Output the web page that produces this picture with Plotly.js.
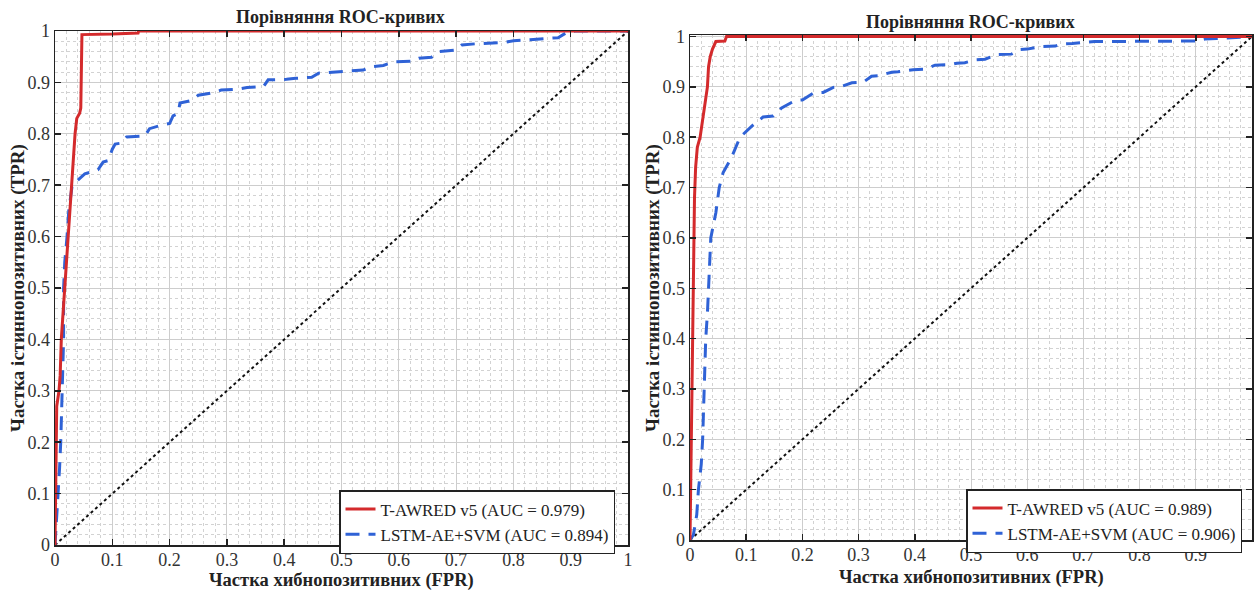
<!DOCTYPE html>
<html>
<head>
<meta charset="utf-8">
<script src="https://cdn.plot.ly/plotly-3.0.1.min.js"></script>
<style>html,body{margin:0;padding:0;background:#fff;}#chart{width:1255px;height:590px;}</style>
</head>
<body>
<div id="chart"></div>
<script>
// ---- data ----
const titleText = "Порівняння ROC-кривих";
const xTitleText = "Частка хибнопозитивних (FPR)";
const yTitleText = "Частка істиннопозитивних (TPR)";
const tickVals = [0, 0.1, 0.2, 0.3, 0.4, 0.5, 0.6, 0.7, 0.8, 0.9, 1];
const tickText = ["0", "0.1", "0.2", "0.3", "0.4", "0.5", "0.6", "0.7", "0.8", "0.9", "1"];

const leftNames = ["T-AWRED v5 (AUC = 0.979)", "LSTM-AE+SVM (AUC = 0.894)"];
const rightNames = ["T-AWRED v5 (AUC = 0.989)", "LSTM-AE+SVM (AUC = 0.906)"];

// Left panel, T-AWRED v5
const leftRedFPR = [0, 0.001, 0.002, 0.003, 0.007, 0.009, 0.011, 0.014, 0.016, 0.019, 0.020, 0.023, 0.029, 0.032, 0.035, 0.038, 0.043, 0.045, 0.046, 0.047, 0.100, 0.145, 0.146, 1];
const leftRedTPR = [0, 0.10, 0.20, 0.27, 0.30, 0.33, 0.40, 0.45, 0.50, 0.53, 0.55, 0.60, 0.70, 0.75, 0.80, 0.83, 0.84, 0.85, 0.90, 0.993, 0.994, 0.996, 1, 1];

// Left panel, LSTM-AE+SVM
const leftBlueFPR = [0, 0.003, 0.005, 0.008, 0.010, 0.011, 0.012, 0.013, 0.015, 0.015, 0.017, 0.021, 0.024, 0.030, 0.045, 0.052, 0.061, 0.075, 0.084, 0.093, 0.100, 0.105, 0.116, 0.125, 0.157, 0.165, 0.183, 0.200, 0.206, 0.215, 0.218, 0.239, 0.250, 0.276, 0.290, 0.320, 0.335, 0.364, 0.372, 0.404, 0.420, 0.448, 0.460, 0.486, 0.500, 0.538, 0.550, 0.573, 0.590, 0.622, 0.635, 0.657, 0.670, 0.700, 0.710, 0.733, 0.785, 0.800, 0.829, 0.850, 0.878, 0.893, 0.908, 1];
const leftBlueTPR = [0, 0.05, 0.10, 0.15, 0.20, 0.25, 0.30, 0.35, 0.40, 0.50, 0.55, 0.60, 0.65, 0.70, 0.715, 0.722, 0.725, 0.730, 0.745, 0.748, 0.770, 0.780, 0.782, 0.794, 0.796, 0.810, 0.816, 0.820, 0.835, 0.840, 0.860, 0.865, 0.875, 0.880, 0.885, 0.887, 0.890, 0.892, 0.905, 0.906, 0.908, 0.910, 0.918, 0.920, 0.922, 0.924, 0.930, 0.933, 0.940, 0.941, 0.947, 0.949, 0.960, 0.963, 0.973, 0.975, 0.978, 0.981, 0.983, 0.985, 0.987, 0.997, 1, 1];

// Right panel, T-AWRED v5
const rightRedFPR = [0, 0.001, 0.002, 0.003, 0.004, 0.005, 0.006, 0.008, 0.010, 0.013, 0.018, 0.022, 0.026, 0.031, 0.033, 0.036, 0.040, 0.046, 0.062, 0.065, 1];
const rightRedTPR = [0, 0.10, 0.20, 0.30, 0.40, 0.50, 0.60, 0.68, 0.74, 0.78, 0.80, 0.83, 0.86, 0.90, 0.94, 0.96, 0.975, 0.99, 0.991, 1, 1];

// Right panel, LSTM-AE+SVM
const rightBlueFPR = [0, 0.006, 0.009, 0.012, 0.015, 0.020, 0.0225, 0.024, 0.025, 0.027, 0.028, 0.031, 0.033, 0.036, 0.037, 0.046, 0.052, 0.059, 0.074, 0.089, 0.110, 0.130, 0.148, 0.163, 0.187, 0.200, 0.220, 0.237, 0.255, 0.267, 0.288, 0.308, 0.323, 0.335, 0.359, 0.370, 0.397, 0.418, 0.436, 0.463, 0.475, 0.489, 0.510, 0.525, 0.546, 0.572, 0.587, 0.600, 0.623, 0.650, 0.661, 0.680, 0.706, 0.720, 0.900, 0.916, 0.937, 0.958, 0.975, 1];
const rightBlueTPR = [0, 0.01, 0.03, 0.05, 0.10, 0.15, 0.20, 0.25, 0.30, 0.35, 0.40, 0.45, 0.50, 0.55, 0.60, 0.65, 0.70, 0.73, 0.76, 0.80, 0.822, 0.840, 0.842, 0.858, 0.873, 0.874, 0.888, 0.889, 0.899, 0.900, 0.908, 0.909, 0.921, 0.922, 0.929, 0.930, 0.934, 0.935, 0.943, 0.944, 0.947, 0.948, 0.954, 0.955, 0.964, 0.965, 0.974, 0.975, 0.980, 0.981, 0.985, 0.986, 0.989, 0.990, 0.991, 0.995, 0.996, 0.997, 0.998, 1];

const diagX = [0, 1];
const diagY = [0, 1];

// ---- styles ----
const RED = "#d42a2c";
const BLUE = "#2f62d6";
const SERIF = "Liberation Serif";

function traces(xa, ya, leg, names, rx, ry, bx, by) {
  return [
    {x: diagX, y: diagY, xaxis: xa, yaxis: ya, mode: "lines", showlegend: false,
     line: {color: "#111", width: 2, dash: "dot"}, hoverinfo: "skip"},
    {x: bx, y: by, xaxis: xa, yaxis: ya, mode: "lines", name: names[1], legend: leg,
     line: {color: BLUE, width: 3, dash: "14px,9px"}},
    {x: rx, y: ry, xaxis: xa, yaxis: ya, mode: "lines", name: names[0], legend: leg,
     line: {color: RED, width: 3}}
  ];
}

const data = [].concat(
  traces("x", "y", "legend", leftNames, leftRedFPR, leftRedTPR, leftBlueFPR, leftBlueTPR),
  traces("x2", "y2", "legend2", rightNames, rightRedFPR, rightRedTPR, rightBlueFPR, rightBlueTPR)
);

function axis(domain, anchor, range, standoff) {
  return {
    domain: domain, anchor: anchor, range: range || [0, 1], fixedrange: true,
    tickmode: "array", tickvals: tickVals, ticktext: tickText,
    ticks: "inside", ticklen: 6, tickwidth: 1.5, tickcolor: "#222",
    ticklabelstandoff: standoff || 0,
    showline: true, linecolor: "#222", linewidth: 1.5, mirror: "ticks",
    showgrid: true, gridcolor: "#cdcdcd", gridwidth: 1,
    zeroline: false,
    minor: {dtick: 0.02, showgrid: true, gridcolor: "#d2d2d2", gridwidth: 1, griddash: "dot"},
    tickfont: {family: SERIF, size: 18, color: "#333"},
    automargin: false
  };
}

const W = 1255, H = 590;
function ann(text, px, py, size, angle) {
  return {text: "<b>" + text + "</b>", x: px / W, y: 1 - py / H, xref: "paper", yref: "paper",
          xanchor: "center", yanchor: "middle", showarrow: false, textangle: angle || 0,
          font: {family: SERIF, size: size, color: "#222"}};
}
const legendStyle = {bgcolor: "#fff", bordercolor: "#222", borderwidth: 1.5,
  font: {family: SERIF, size: 17, color: "#222"}, traceorder: "reversed",
  tracegroupgap: 0, itemwidth: 30, xanchor: "right", yanchor: "top"};

const layout = {
  width: W, height: H,
  margin: {l: 0, r: 0, t: 0, b: 0},
  font: {family: SERIF, size: 18, color: "#333"},
  paper_bgcolor: "#fff", plot_bgcolor: "#fff",
  showlegend: true,
  xaxis: axis([55 / W, 628 / W], "y", [0, 1], -2),
  yaxis: axis([1 - 545 / H, 1 - 31 / H], "x"),
  xaxis2: axis([690 / W, 1252 / W], "y2", [0, 1], -2),
  yaxis2: axis([1 - 540 / H, 1 - 35 / H], "x2", [0, 1.003]),
  legend: Object.assign({x: 615 / W, y: 1 - 490 / H}, legendStyle),
  legend2: Object.assign({x: 1242 / W, y: 1 - 489 / H}, legendStyle),
  annotations: [
    ann(titleText, 340, 17, 18),
    ann(titleText, 970, 22, 18),
    ann(xTitleText, 341, 580, 18.5),
    ann(xTitleText, 971, 577, 18.5),
    ann(yTitleText, 18, 288, 19, -90),
    ann(yTitleText, 653, 288, 19, -90)
  ]
};

Plotly.newPlot("chart", data, layout, {staticPlot: true, displayModeBar: false});
</script>
</body>
</html>
